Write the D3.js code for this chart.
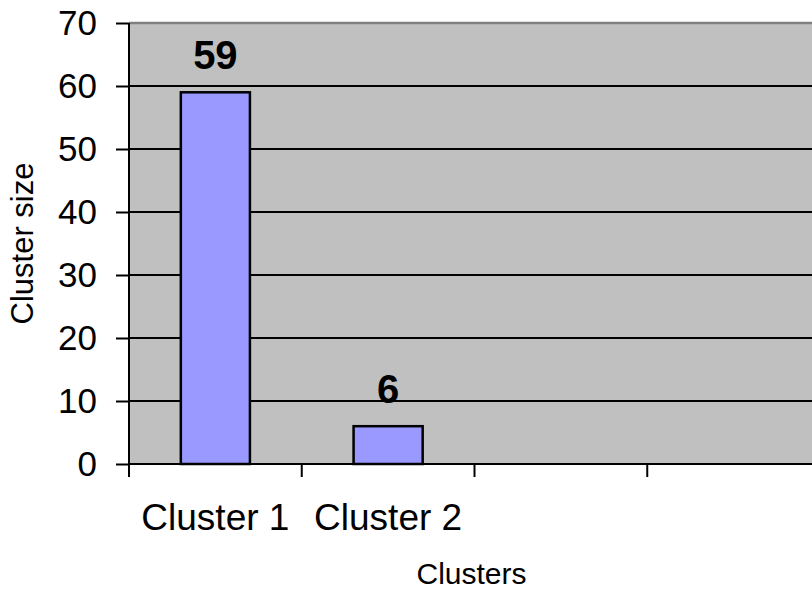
<!DOCTYPE html>
<html>
<head>
<meta charset="utf-8">
<script src="https://cdn.jsdelivr.net/npm/d3@7"></script>
<style>
  body { margin: 0; background: #fff; }
  svg { display: block; font-family: "Liberation Sans", Arial, sans-serif; }
</style>
</head>
<body>
<div id="wrapper"></div>
<script>
// Data
const categories = ["Cluster 1", "Cluster 2", "", ""];
const clusterSizes = [59, 6, null, null];
const yTicks = [0, 10, 20, 30, 40, 50, 60, 70];

function drawBars() {
  // Dimensions
  let dimensions = {
    width: 812,
    height: 592,
    margin: { top: 23, left: 129 },
    plotWidth: 691,
    plotHeight: 441,
  };

  const wrapper = d3.select("#wrapper")
    .append("svg")
      .attr("width", dimensions.width)
      .attr("height", dimensions.height);

  const bounds = wrapper.append("g")
    .attr("transform", `translate(${dimensions.margin.left},${dimensions.margin.top})`);

  // Scales
  const xScale = d3.scaleBand()
    .domain(d3.range(categories.length))
    .range([0, dimensions.plotWidth]);

  const yScale = d3.scaleLinear()
    .domain([0, 70])
    .range([dimensions.plotHeight, 0]);

  // Plot area
  bounds.append("rect")
    .attr("width", dimensions.plotWidth)
    .attr("height", dimensions.plotHeight)
    .attr("fill", "#c0c0c0");

  bounds.append("line")
    .attr("x1", 0).attr("x2", dimensions.plotWidth)
    .attr("y1", 0).attr("y2", 0)
    .attr("stroke", "#808080")
    .attr("stroke-width", 2.5);

  // Gridlines
  bounds.append("g")
    .selectAll("line")
    .data(yTicks.filter(d => d > 0 && d < 70))
    .join("line")
      .attr("x1", 0).attr("x2", dimensions.plotWidth)
      .attr("y1", d => yScale(d)).attr("y2", d => yScale(d))
      .attr("stroke", "#000")
      .attr("stroke-width", 2);

  // Bars
  const bw = xScale.bandwidth();
  const barData = clusterSizes
    .map((v, i) => ({ i, v }))
    .filter(d => d.v != null);

  bounds.append("g")
    .selectAll("rect")
    .data(barData)
    .join("rect")
      .attr("x", d => xScale(d.i) + bw * 0.3)
      .attr("width", bw * 0.4)
      .attr("y", d => yScale(d.v))
      .attr("height", d => yScale(0) - yScale(d.v))
      .attr("fill", "#9999ff")
      .attr("stroke", "#000")
      .attr("stroke-width", 2.5);

  // Data labels
  bounds.append("g")
    .selectAll("text")
    .data(barData)
    .join("text")
      .attr("x", d => xScale(d.i) + bw / 2)
      .attr("y", d => yScale(d.v) - 23)
      .attr("text-anchor", "middle")
      .attr("font-size", 40)
      .attr("font-weight", "bold")
      .text(d => d.v);

  // Y axis
  const yAxis = d3.axisLeft(yScale)
    .tickValues(yTicks)
    .tickSize(13)
    .tickPadding(19);

  const yAxisG = bounds.append("g").call(yAxis);
  yAxisG.select(".domain").remove();
  yAxisG.append("line")
    .attr("x1", 0).attr("x2", 0)
    .attr("y1", 0).attr("y2", dimensions.plotHeight)
    .attr("stroke", "#000").attr("stroke-width", 2);
  yAxisG.selectAll(".tick line").attr("stroke-width", 2);
  yAxisG.selectAll(".tick text")
    .attr("font-size", 35)
    .attr("font-family", "Liberation Sans, Arial, sans-serif")
    .attr("fill", "#000");

  // X axis
  const xAxis = d3.axisBottom(xScale)
    .tickSize(0)
    .tickPadding(40)
    .tickFormat(i => categories[i]);

  const xAxisG = bounds.append("g")
    .attr("transform", `translate(0,${dimensions.plotHeight})`)
    .call(xAxis);
  xAxisG.select(".domain").remove();
  xAxisG.append("line")
    .attr("x1", 0).attr("x2", dimensions.plotWidth)
    .attr("stroke", "#000").attr("stroke-width", 2);
  xAxisG.selectAll(".tick text")
    .attr("font-size", 37)
    .attr("font-family", "Liberation Sans, Arial, sans-serif")
    .attr("fill", "#000");

  // Category boundary ticks
  xAxisG.append("g")
    .selectAll("line")
    .data(d3.range(categories.length))
    .join("line")
      .attr("x1", i => xScale(i)).attr("x2", i => xScale(i))
      .attr("y1", 0).attr("y2", 13)
      .attr("stroke", "#000").attr("stroke-width", 2);

  // Axis titles
  wrapper.append("text")
    .attr("x", dimensions.margin.left + dimensions.plotWidth / 2 - 3)
    .attr("y", 584)
    .attr("text-anchor", "middle")
    .attr("font-size", 30)
    .text("Clusters");

  wrapper.append("text")
    .attr("transform", `translate(33,${dimensions.margin.top + dimensions.plotHeight / 2}) rotate(-90)`)
    .attr("text-anchor", "middle")
    .attr("font-size", 31)
    .text("Cluster size");
}
drawBars();
</script>
</body>
</html>
